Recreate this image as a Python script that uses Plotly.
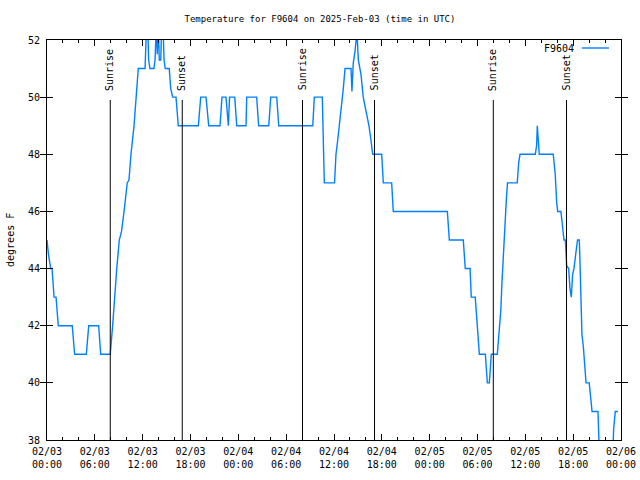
import plotly.graph_objects as go

# ---- data ----
times = [
    "2025-02-03 00:00", "2025-02-03 00:11", "2025-02-03 00:28", "2025-02-03 00:38",
    "2025-02-03 00:53", "2025-02-03 01:08", "2025-02-03 01:25", "2025-02-03 03:10",
    "2025-02-03 03:28", "2025-02-03 04:56", "2025-02-03 05:14", "2025-02-03 06:29",
    "2025-02-03 06:44", "2025-02-03 07:56", "2025-02-03 08:14", "2025-02-03 08:34",
    "2025-02-03 08:45", "2025-02-03 09:04", "2025-02-03 09:21", "2025-02-03 09:40",
    "2025-02-03 10:04", "2025-02-03 10:17", "2025-02-03 10:32", "2025-02-03 10:55",
    "2025-02-03 11:15", "2025-02-03 11:27", "2025-02-03 12:18", "2025-02-03 12:21",
    "2025-02-03 12:29", "2025-02-03 12:38", "2025-02-03 12:45", "2025-02-03 12:55",
    "2025-02-03 13:25", "2025-02-03 13:33", "2025-02-03 13:43", "2025-02-03 13:50",
    "2025-02-03 13:58", "2025-02-03 14:05", "2025-02-03 14:16", "2025-02-03 14:23",
    "2025-02-03 14:33", "2025-02-03 14:41", "2025-02-03 14:50", "2025-02-03 15:20",
    "2025-02-03 15:31", "2025-02-03 15:46", "2025-02-03 16:11", "2025-02-03 16:28",
    "2025-02-03 18:59", "2025-02-03 19:17", "2025-02-03 19:57", "2025-02-03 20:17",
    "2025-02-03 21:42", "2025-02-03 21:57", "2025-02-03 22:27", "2025-02-03 22:45",
    "2025-02-03 22:54", "2025-02-03 23:33", "2025-02-03 23:48", "2025-02-04 00:58",
    "2025-02-04 01:03", "2025-02-04 02:18", "2025-02-04 02:33", "2025-02-04 03:49",
    "2025-02-04 04:04", "2025-02-04 04:49", "2025-02-04 05:04", "2025-02-04 09:20",
    "2025-02-04 09:32", "2025-02-04 10:32", "2025-02-04 10:47", "2025-02-04 12:04",
    "2025-02-04 12:15", "2025-02-04 12:28", "2025-02-04 12:40", "2025-02-04 12:53",
    "2025-02-04 13:10", "2025-02-04 13:23", "2025-02-04 14:08", "2025-02-04 14:15",
    "2025-02-04 14:25", "2025-02-04 14:38", "2025-02-04 14:53", "2025-02-04 15:03",
    "2025-02-04 15:23", "2025-02-04 15:40", "2025-02-04 16:01", "2025-02-04 16:23",
    "2025-02-04 16:38", "2025-02-04 16:51", "2025-02-04 17:59", "2025-02-04 18:11",
    "2025-02-04 19:14", "2025-02-04 19:26", "2025-02-05 02:13", "2025-02-05 02:28",
    "2025-02-05 04:13", "2025-02-05 04:28", "2025-02-05 05:04", "2025-02-05 05:13",
    "2025-02-05 05:43", "2025-02-05 06:00", "2025-02-05 06:14", "2025-02-05 06:59",
    "2025-02-05 07:14", "2025-02-05 07:29", "2025-02-05 07:44", "2025-02-05 08:29",
    "2025-02-05 08:44", "2025-02-05 08:55", "2025-02-05 09:04", "2025-02-05 09:14",
    "2025-02-05 09:27", "2025-02-05 09:38", "2025-02-05 09:46", "2025-02-05 10:59",
    "2025-02-05 11:10", "2025-02-05 11:20", "2025-02-05 13:15", "2025-02-05 13:25",
    "2025-02-05 13:30", "2025-02-05 13:38", "2025-02-05 13:45", "2025-02-05 15:30",
    "2025-02-05 15:45", "2025-02-05 15:56", "2025-02-05 16:04", "2025-02-05 16:28",
    "2025-02-05 16:41", "2025-02-05 16:51", "2025-02-05 17:01", "2025-02-05 17:11",
    "2025-02-05 17:26", "2025-02-05 17:36", "2025-02-05 17:46", "2025-02-05 17:56",
    "2025-02-05 18:06", "2025-02-05 18:16", "2025-02-05 18:27", "2025-02-05 18:33",
    "2025-02-05 18:46", "2025-02-05 18:51", "2025-02-05 18:57", "2025-02-05 19:06",
    "2025-02-05 19:16", "2025-02-05 19:27", "2025-02-05 19:37", "2025-02-05 20:01",
    "2025-02-05 20:12", "2025-02-05 20:22", "2025-02-05 21:07", "2025-02-05 21:17",
    "2025-02-05 22:58", "2025-02-05 23:05", "2025-02-05 23:17", "2025-02-05 23:37",
]
temps = [
    45, 44.5, 44, 44,
    43, 43, 42, 42,
    41, 41, 42, 42,
    41, 41, 42, 43.5,
    44, 45, 45.3, 46,
    47, 47.1, 48, 49,
    50.5, 51, 51, 51.3,
    52.5, 52.5, 51.3, 51,
    51, 51.3, 52.5, 51.5,
    52.5, 51.3, 51.3, 52.5,
    52.5, 51.3, 51, 51,
    50.3, 50, 50, 49,
    49, 50, 50, 49,
    49, 50, 50, 49,
    50, 50, 49, 49,
    50, 50, 49, 49,
    50, 50, 49, 49,
    50, 50, 47, 47,
    48, 48.5, 49, 49.5,
    50.3, 51, 51, 50.2,
    51.2, 51.6, 52.3, 51.3,
    50.8, 50, 49.5, 49,
    48.5, 48, 48, 47,
    47, 46, 46, 45,
    45, 44, 44, 43,
    43, 42, 41, 41,
    40, 40, 41, 41,
    42, 42.5, 43.5, 44.5,
    45.5, 46.5, 47, 47,
    47.7, 48, 48, 48.3,
    49, 48.3, 48, 48,
    47.3, 46.3, 46, 46,
    45.3, 45, 45, 44.1,
    44, 43.3, 43, 43.8,
    44, 44.3, 44.8, 45,
    45, 44.3, 42.8, 41.7,
    41.3, 40.7, 40, 40,
    39.5, 39, 39, 37.5,
    37.5, 38.4, 39, 39,
]
series_name = "F9604"

event_labels = ["Sunrise", "Sunset", "Sunrise", "Sunset", "Sunrise", "Sunset"]
event_times = ["2025-02-03 07:56", "2025-02-03 16:58", "2025-02-04 08:03",
               "2025-02-04 17:05", "2025-02-05 07:59", "2025-02-05 17:10"]

x_range = ["2025-02-03 00:00", "2025-02-06 00:00"]
y_range = [38, 52]

FONT = "DejaVu Sans Mono"
LINE_COLOR = "#0080ff"
SIX_H = 6 * 3600 * 1000

fig = go.Figure()
fig.add_trace(go.Scatter(
    x=times, y=temps, mode="lines", name=series_name,
    line=dict(color=LINE_COLOR, width=1.4), showlegend=False,
))
# invisible companion trace so the second (time-of-day) label axis is drawn
fig.add_trace(go.Scatter(
    x=times, y=temps, mode="lines", xaxis="x2", yaxis="y",
    line=dict(width=0, color="rgba(0,0,0,0)"), hoverinfo="skip", showlegend=False,
))

shapes = []
annotations = []
for lab, t in zip(event_labels, event_times):
    shapes.append(dict(type="line", xref="x", yref="y", x0=t, x1=t, y0=49.9, y1=38,
                       line=dict(color="black", width=1)))
    annotations.append(dict(x=t, y=50.15, xref="x", yref="y", text=lab, textangle=-90,
                            showarrow=False, xanchor="center", yanchor="bottom",
                            font=dict(family=FONT, size=10, color="black")))

# gnuplot-like key (text then line sample)
annotations.append(dict(x=0.9216, y=0.98, xref="paper", yref="paper", text=series_name,
                        showarrow=False, xanchor="right", yanchor="middle",
                        font=dict(family=FONT, size=10, color="black")))
shapes.append(dict(type="line", xref="paper", yref="paper", x0=0.932, x1=0.979,
                   y0=0.98, y1=0.98, line=dict(color=LINE_COLOR, width=1.4)))

# y axis title
annotations.append(dict(x=-0.0645, y=0.5, xref="paper", yref="paper", text="degrees F",
                        textangle=-90, showarrow=False, xanchor="center", yanchor="middle",
                        font=dict(family=FONT, size=10, color="black")))

fig.update_layout(
    width=640, height=480,
    margin=dict(l=47, r=19, t=40, b=40),
    paper_bgcolor="white", plot_bgcolor="white",
    font=dict(family=FONT, size=10, color="black"),
    title=dict(text="Temperature for F9604 on 2025-Feb-03 (time in UTC)",
               x=0.5, xref="container", xanchor="center",
               y=1 - 19 / 480, yref="container", yanchor="middle",
               font=dict(family=FONT, size=9, color="black")),
    shapes=shapes, annotations=annotations,
    showlegend=False,
    xaxis=dict(
        type="date", range=x_range, showgrid=False, zeroline=False, automargin=False,
        showline=True, linecolor="black", linewidth=1, mirror="allticks",
        ticks="inside", ticklen=6, tickcolor="black", tickwidth=1,
        dtick=SIX_H, tick0=x_range[0],
        tickformat="%m/%d", ticklabelstandoff=2,
        tickfont=dict(family=FONT, size=10, color="black"),
        minor=dict(dtick=2 * 3600 * 1000, ticks="inside", ticklen=3,
                   tickcolor="black", showgrid=False),
    ),
    xaxis2=dict(
        type="date", range=x_range, overlaying="x", anchor="y", side="bottom",
        matches="x", showgrid=False, zeroline=False, automargin=False,
        showline=False, ticks="", dtick=SIX_H, tick0=x_range[0],
        tickformat="%H:%M", ticklabelstandoff=17,
        tickfont=dict(family=FONT, size=10, color="black"),
    ),
    yaxis=dict(
        range=y_range, showgrid=False, zeroline=False, automargin=False,
        showline=True, linecolor="black", linewidth=1, mirror="allticks",
        ticks="inside", ticklen=6, tickcolor="black", tickwidth=1,
        dtick=2, tick0=38, ticklabelstandoff=4,
        tickfont=dict(family=FONT, size=10, color="black"),
    ),
)

fig.write_html("out.html")
